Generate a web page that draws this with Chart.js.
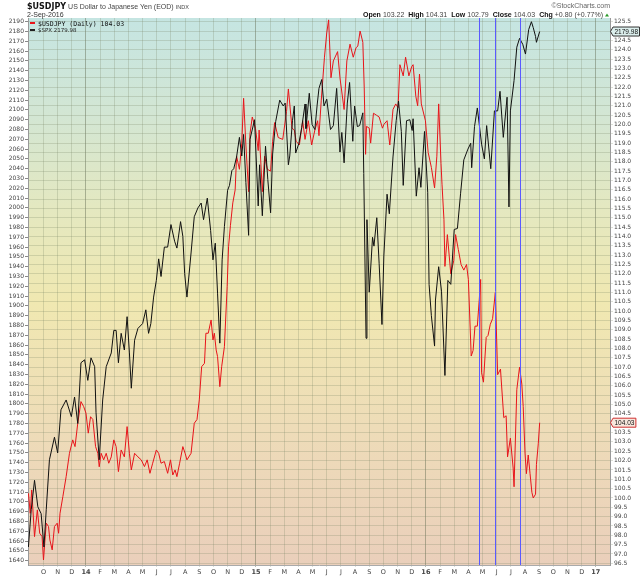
<!DOCTYPE html>
<html>
<head>
<meta charset="utf-8">
<script src="https://cdn.jsdelivr.net/npm/chart.js@4.4.1/dist/chart.umd.min.js"></script>
<style>
  html, body { margin: 0; padding: 0; background: #fff; }
  canvas { display: block; }
</style>
</head>
<body>
<canvas id="chart" width="640" height="576"></canvas>
<script>
// Month labels along the bottom axis, one per month from Oct 2013
const monthLabels = ["O","N","D","14","F","M","A","M","J","J","A","S","O","N","D","15","F","M","A","M","J","J","A","S","O","N","D","16","F","M","A","M","J","J","A","S","O","N","D","17"];

// Left axis ($SPX) and right axis ($USDJPY) tick labels
const leftTicks = [];
for (let v = 1640; v <= 2190; v += 10) leftTicks.push(v);
const rightTicks = [];
for (let v = 96.5; v <= 125.5001; v += 0.5) rightTicks.push(Math.round(v * 10) / 10);

// $SPX (black line, left axis)
const spxDates = ["2013-08-30","2013-09-05","2013-09-12","2013-09-19","2013-09-26","2013-10-02","2013-10-07","2013-10-14","2013-10-25","2013-11-01","2013-11-08","2013-11-19","2013-11-30","2013-12-07","2013-12-14","2013-12-21","2013-12-29","2014-01-05","2014-01-12","2014-01-20","2014-01-23","2014-01-30","2014-02-06","2014-02-13","2014-02-23","2014-02-28","2014-03-05","2014-03-10","2014-03-16","2014-03-23","2014-03-29","2014-04-03","2014-04-07","2014-04-14","2014-04-21","2014-05-01","2014-05-08","2014-05-14","2014-05-19","2014-05-25","2014-05-31","2014-06-05","2014-06-10","2014-06-17","2014-06-24","2014-07-01","2014-07-09","2014-07-14","2014-07-22","2014-07-27","2014-07-31","2014-08-05","2014-08-14","2014-08-21","2014-08-29","2014-09-05","2014-09-10","2014-09-18","2014-09-25","2014-09-30","2014-10-05","2014-10-10","2014-10-15","2014-10-20","2014-10-25","2014-11-01","2014-11-05","2014-11-10","2014-11-14","2014-11-20","2014-11-26","2014-12-01","2014-12-05","2014-12-10","2014-12-16","2014-12-19","2014-12-29","2015-01-06","2015-01-09","2015-01-15","2015-01-22","2015-01-27","2015-02-02","2015-02-06","2015-02-12","2015-02-20","2015-02-27","2015-03-03","2015-03-10","2015-03-13","2015-03-19","2015-03-23","2015-03-26","2015-04-02","2015-04-08","2015-04-15","2015-04-17","2015-04-24","2015-04-30","2015-05-06","2015-05-11","2015-05-15","2015-05-21","2015-05-26","2015-06-01","2015-06-09","2015-06-15","2015-06-22","2015-06-29","2015-07-03","2015-07-08","2015-07-15","2015-07-20","2015-07-27","2015-07-31","2015-08-06","2015-08-11","2015-08-18","2015-08-20","2015-08-25","2015-08-27","2015-09-01","2015-09-08","2015-09-11","2015-09-17","2015-09-22","2015-09-28","2015-10-02","2015-10-09","2015-10-14","2015-10-22","2015-10-29","2015-11-03","2015-11-09","2015-11-13","2015-11-20","2015-11-27","2015-12-02","2015-12-04","2015-12-11","2015-12-17","2015-12-21","2015-12-29","2016-01-05","2016-01-08","2016-01-13","2016-01-20","2016-01-22","2016-01-29","2016-02-04","2016-02-11","2016-02-17","2016-02-23","2016-03-01","2016-03-08","2016-03-15","2016-03-22","2016-03-31","2016-04-06","2016-04-08","2016-04-14","2016-04-20","2016-04-29","2016-05-05","2016-05-10","2016-05-19","2016-05-27","2016-06-03","2016-06-08","2016-06-15","2016-06-23","2016-06-27","2016-06-30","2016-07-08","2016-07-14","2016-07-20","2016-07-27","2016-08-02","2016-08-09","2016-08-15","2016-08-19","2016-08-24","2016-08-26","2016-09-02"];
const spxValues = [1654,1692,1722,1695,1688,1654,1692,1743,1766,1750,1794,1804,1787,1807,1780,1842,1845,1824,1847,1838,1791,1743,1804,1838,1852,1875,1875,1842,1872,1855,1889,1852,1816,1865,1877,1882,1896,1872,1882,1909,1926,1948,1930,1960,1960,1983,1966,1959,1986,1971,1933,1909,1954,1991,2000,2005,1988,2010,1977,1947,1964,1913,1862,1947,1981,2018,2023,2038,2040,2052,2072,2053,2075,2026,1972,2070,2090,2002,2044,1992,2063,2029,1995,2055,2088,2110,2104,2107,2044,2053,2089,2104,2056,2066,2082,2106,2081,2117,2085,2080,2105,2122,2131,2104,2111,2080,2084,2122,2057,2077,2046,2107,2128,2068,2104,2083,2084,2097,2035,1867,1988,1914,1970,1961,1990,1943,1881,1951,2014,1994,2052,2089,2109,2078,2023,2089,2090,2079,2091,2012,2041,2021,2078,2016,1922,1890,1859,1906,1940,1915,1829,1926,1922,1978,1979,2015,2049,2060,2066,2041,2083,2102,2065,2050,2084,2040,2099,2099,2119,2072,2113,2001,2099,2130,2164,2173,2167,2157,2182,2190,2184,2175,2169,2180];

// $USDJPY (red line, right axis)
const jpyDates = ["2013-08-30","2013-09-03","2013-09-06","2013-09-12","2013-09-18","2013-09-23","2013-09-28","2013-10-01","2013-10-07","2013-10-12","2013-10-15","2013-10-20","2013-10-25","2013-10-31","2013-11-03","2013-11-06","2013-11-12","2013-11-19","2013-11-26","2013-12-03","2013-12-08","2013-12-14","2013-12-21","2013-12-27","2014-01-01","2014-01-06","2014-01-11","2014-01-16","2014-01-22","2014-01-27","2014-01-30","2014-02-03","2014-02-08","2014-02-13","2014-02-18","2014-02-23","2014-02-28","2014-03-05","2014-03-10","2014-03-16","2014-03-23","2014-03-29","2014-04-03","2014-04-07","2014-04-14","2014-04-21","2014-04-28","2014-05-05","2014-05-11","2014-05-17","2014-05-23","2014-05-31","2014-06-05","2014-06-10","2014-06-17","2014-06-24","2014-06-30","2014-07-05","2014-07-10","2014-07-14","2014-07-20","2014-07-27","2014-08-01","2014-08-05","2014-08-14","2014-08-21","2014-08-27","2014-09-01","2014-09-06","2014-09-12","2014-09-15","2014-09-20","2014-09-26","2014-09-30","2014-10-03","2014-10-07","2014-10-10","2014-10-15","2014-10-19","2014-10-25","2014-10-31","2014-11-03","2014-11-07","2014-11-12","2014-11-17","2014-11-20","2014-11-26","2014-12-01","2014-12-05","2014-12-10","2014-12-16","2014-12-19","2014-12-24","2014-12-31","2015-01-06","2015-01-08","2015-01-15","2015-01-20","2015-01-26","2015-02-02","2015-02-06","2015-02-10","2015-02-17","2015-02-26","2015-03-06","2015-03-10","2015-03-18","2015-03-23","2015-03-27","2015-04-03","2015-04-10","2015-04-15","2015-04-22","2015-04-29","2015-05-06","2015-05-12","2015-05-15","2015-05-20","2015-05-27","2015-06-01","2015-06-05","2015-06-10","2015-06-15","2015-06-24","2015-06-29","2015-07-08","2015-07-14","2015-07-21","2015-07-28","2015-08-03","2015-08-07","2015-08-12","2015-08-18","2015-08-21","2015-08-24","2015-08-26","2015-09-01","2015-09-04","2015-09-10","2015-09-16","2015-09-22","2015-09-29","2015-10-02","2015-10-09","2015-10-15","2015-10-22","2015-10-28","2015-11-02","2015-11-06","2015-11-13","2015-11-18","2015-11-25","2015-12-01","2015-12-04","2015-12-10","2015-12-14","2015-12-18","2015-12-22","2015-12-31","2016-01-06","2016-01-13","2016-01-20","2016-01-25","2016-01-29","2016-02-03","2016-02-05","2016-02-09","2016-02-11","2016-02-16","2016-02-23","2016-02-29","2016-03-04","2016-03-10","2016-03-16","2016-03-22","2016-03-28","2016-04-01","2016-04-07","2016-04-11","2016-04-15","2016-04-20","2016-04-24","2016-04-27","2016-04-29","2016-05-03","2016-05-09","2016-05-13","2016-05-18","2016-05-23","2016-05-29","2016-06-03","2016-06-09","2016-06-16","2016-06-21","2016-06-24","2016-06-30","2016-07-06","2016-07-08","2016-07-14","2016-07-20","2016-07-25","2016-07-28","2016-08-01","2016-08-04","2016-08-08","2016-08-12","2016-08-16","2016-08-19","2016-08-24","2016-08-26","2016-08-30","2016-09-02"];
const jpyValues = [100.25,99.18,100.43,97.93,99.36,98.11,97.93,96.68,98.65,98.47,97.75,97.22,98.47,98.65,98.11,99.18,100.07,101.14,102.39,103.11,102.75,104.0,105.16,104.89,104.54,103.47,104.35,104.2,102.75,102.39,101.67,102.39,102.04,102.39,101.86,102.2,103.11,102.75,101.41,102.57,102.2,103.82,102.39,101.5,102.39,102.2,102.04,101.68,102.04,101.32,101.86,102.57,102.39,101.86,101.95,101.32,102.04,101.23,101.5,101.14,101.86,102.75,102.39,102.04,102.39,104.0,104.2,105.25,107.03,107.21,108.82,108.82,109.53,108.46,108.82,107.92,107.57,105.96,107.03,108.1,111.31,113.45,114.6,115.8,116.5,118.3,117.6,119.0,121.4,118.9,116.4,119.5,120.4,119.8,118.6,119.7,116.4,118.3,117.6,117.5,119.1,120.1,119.3,119.2,120.7,121.9,119.8,119.7,119.1,118.9,120.2,119.2,120.2,118.9,119.7,120.2,119.4,121.3,123.6,124.9,125.6,122.5,123.4,123.9,122.5,120.8,123.4,124.3,123.6,124.1,124.2,125.0,124.4,122.0,118.4,119.9,119.8,119.0,120.6,120.5,120.4,119.8,120.0,120.2,118.9,120.8,121.1,120.9,123.2,122.6,123.6,122.6,123.1,123.2,121.5,121.0,122.7,121.1,120.2,118.5,117.7,116.6,118.3,121.1,117.9,116.8,114.9,112.4,114.1,112.0,112.7,114.1,113.3,112.5,112.2,112.5,111.7,107.6,107.9,109.2,109.2,110.6,111.7,106.7,106.2,108.6,108.7,109.3,109.6,111.0,106.6,106.9,104.3,104.4,102.2,103.2,101.6,100.6,105.8,107.0,106.1,104.9,102.4,101.3,102.3,101.3,100.3,100.0,100.2,101.8,102.9,104.03];

// Blue vertical marker lines
const markerDates = ["2016-04-24","2016-05-29","2016-07-20"];

// Axis ranges
const xMin = -1.094, xMax = 40;
const leftMin = 1635.6, leftMax = 2193.8;
const rightMin = 96.41, rightMax = 125.70;

// date string -> month index (Oct 2013 = 0)
function monthIndex(s) {
    const [y, m, d] = s.split("-").map(Number);
    const days = new Date(y, m, 0).getDate();
    return (y - 2013) * 12 + (m - 10) + (d - 1) / days;
}
const isYear = i => /\d/.test(monthLabels[i] || "");

const spxPoints = spxDates.map((d, i) => ({ x: monthIndex(d), y: spxValues[i] }));
const jpyPoints = jpyDates.map((d, i) => ({ x: monthIndex(d), y: jpyValues[i] }));

// Plot background gradient
const backgroundPlugin = {
    id: "bg",
    beforeDraw(chart) {
        const { ctx, chartArea: a } = chart;
        const g = ctx.createLinearGradient(0, a.top, 0, a.bottom);
        g.addColorStop(0, "#c5e5e2");
        g.addColorStop(0.18, "#d3e6d3");
        g.addColorStop(0.35, "#e4e8c0");
        g.addColorStop(0.52, "#f0e8b1");
        g.addColorStop(0.75, "#eedcb8");
        g.addColorStop(1, "#eacfbb");
        ctx.save();
        ctx.fillStyle = g;
        ctx.fillRect(a.left, a.top, a.right - a.left, a.bottom - a.top);
        ctx.restore();
    }
};

// Vertical markers, legend, header, last-value boxes
const overlayPlugin = {
    id: "overlay",
    afterDatasetsDraw(chart) {
        const { ctx, chartArea: a, scales } = chart;
        ctx.save();
        ctx.strokeStyle = "#5a5aff";
        ctx.lineWidth = 1;
        markerDates.forEach(d => {
            const x = Math.round(scales.x.getPixelForValue(monthIndex(d))) + 0.5;
            ctx.beginPath();
            ctx.moveTo(x, a.top);
            ctx.lineTo(x, a.bottom);
            ctx.stroke();
        });
        ctx.restore();
    },
    afterDraw(chart) {
        const { ctx, chartArea: a, scales } = chart;
        ctx.save();
        ctx.textBaseline = "alphabetic";

        // title block
        ctx.fillStyle = "#111";
        ctx.font = "bold 8px 'DejaVu Sans'";
        ctx.fillText("$USDJPY", 27, 9);
        let x = 27 + ctx.measureText("$USDJPY").width + 2;
        ctx.font = "7px 'Liberation Sans'";
        ctx.fillStyle = "#444";
        ctx.fillText("US Dollar to Japanese Yen (EOD)", x, 9);
        x += ctx.measureText("US Dollar to Japanese Yen (EOD)").width + 2;
        ctx.font = "5.5px 'Liberation Sans'";
        ctx.fillText("INDX", x, 9);
        ctx.font = "7px 'Liberation Sans'";
        ctx.fillStyle = "#333";
        ctx.fillText("2-Sep-2016", 27, 17);

        ctx.fillStyle = "#666";
        ctx.font = "7px 'Liberation Sans'";
        ctx.textAlign = "right";
        ctx.fillText("\u00A9StockCharts.com", 610, 8);
        ctx.textAlign = "left";

        // quote line, laid out right to left so it ends at the triangle
        const quote = [["Open", true], ["103.22", false], ["High", true], ["104.31", false],
                       ["Low", true], ["102.79", false], ["Close", true], ["104.03", false],
                       ["Chg", true], ["+0.80 (+0.77%)", false]];
        const qFont = b => (b ? "bold " : "") + "7px 'Liberation Sans'";
        const widths = quote.map(([t, b]) => { ctx.font = qFont(b); return ctx.measureText(t).width; });
        const gap = i => (i % 2 === 0 ? 2 : 4);
        let total = 0;
        widths.forEach((w, i) => { total += w + (i < widths.length - 1 ? gap(i) : 0); });
        let qx = 603 - total;
        quote.forEach(([t, b], i) => {
            ctx.font = qFont(b);
            ctx.fillStyle = b ? "#111" : "#444";
            ctx.fillText(t, qx, 17);
            qx += widths[i] + gap(i);
        });
        ctx.fillStyle = "#2a9a2a";
        ctx.beginPath();
        ctx.moveTo(605, 16.5);
        ctx.lineTo(609, 16.5);
        ctx.lineTo(607, 13.5);
        ctx.closePath();
        ctx.fill();

        // legend inside the plot
        ctx.fillStyle = "#e8141a";
        ctx.fillRect(a.left + 2, a.top + 4, 5, 2);
        ctx.fillStyle = "#111";
        ctx.font = "6.5px 'DejaVu Sans Mono'";
        ctx.fillText("$USDJPY (Daily) 104.03", a.left + 10, a.top + 7.5);
        ctx.fillStyle = "#222";
        ctx.fillRect(a.left + 2, a.top + 11, 5, 2);
        ctx.font = "5.5px 'DejaVu Sans'";
        ctx.fillText("$SPX 2179.98", a.left + 10, a.top + 14);

        // last value boxes on the right axis
        const box = (y, text, fill, stroke) => {
            ctx.font = "6.5px 'Liberation Sans'";
            const w = ctx.measureText(text).width + 3;
            const bx = a.right + 3;
            ctx.beginPath();
            ctx.moveTo(a.right + 0.5, y);
            ctx.lineTo(bx, y - 4.5);
            ctx.lineTo(bx + w, y - 4.5);
            ctx.lineTo(bx + w, y + 4.5);
            ctx.lineTo(bx, y + 4.5);
            ctx.closePath();
            ctx.fillStyle = fill;
            ctx.fill();
            ctx.strokeStyle = stroke;
            ctx.lineWidth = 1;
            ctx.stroke();
            ctx.fillStyle = "#111";
            ctx.textBaseline = "middle";
            ctx.fillText(text, bx + 1.5, y + 0.5);
            ctx.textBaseline = "alphabetic";
        };
        box(scales.yLeft.getPixelForValue(spxValues[spxValues.length - 1]), "2179.98", "#dcefed", "#333");
        box(scales.yRight.getPixelForValue(jpyValues[jpyValues.length - 1]), "104.03", "#f7e6dc", "#d03030");
        ctx.restore();
    }
};

const tickFont = { family: "DejaVu Sans", size: 6 };

new Chart(document.getElementById("chart").getContext("2d"), {
    type: "line",
    data: {
        datasets: [
            { label: "$SPX", data: spxPoints, yAxisID: "yLeft", borderColor: "#111", borderWidth: 1, pointRadius: 0, tension: 0, order: 0 },
            { label: "$USDJPY", data: jpyPoints, yAxisID: "yRight", borderColor: "#e8141a", borderWidth: 1, pointRadius: 0, tension: 0, order: 1 }
        ]
    },
    options: {
        responsive: false,
        animation: false,
        layout: { padding: { top: 18, left: 0, right: 0, bottom: 0 } },
        plugins: { legend: { display: false }, tooltip: { enabled: false } },
        scales: {
            x: {
                type: "linear", min: xMin, max: xMax,
                afterBuildTicks: s => { s.ticks = monthLabels.map((_, i) => ({ value: i })); },
                afterFit: s => { s.height = 11; },
                grid: {
                    color: ctx => isYear(ctx.index) ? "rgba(95,105,80,0.45)" : "rgba(120,130,100,0.25)",
                    tickLength: 2
                },
                border: { color: "#aaa" },
                ticks: {
                    autoSkip: false, maxRotation: 0, padding: 1, color: "#444",
                    font: ctx => ({ family: "DejaVu Sans", size: 6.5, weight: isYear(ctx.index) ? "bold" : "normal" }),
                    callback: (v, i) => monthLabels[i]
                }
            },
            yLeft: {
                type: "linear", position: "left", min: leftMin, max: leftMax,
                afterBuildTicks: s => { s.ticks = leftTicks.map(v => ({ value: v })); },
                afterFit: s => { s.width = 28; },
                grid: { drawOnChartArea: false, tickLength: 3, color: "#888" },
                border: { color: "#999" },
                ticks: { autoSkip: false, padding: 1, color: "#444", font: tickFont, callback: v => String(v) }
            },
            yRight: {
                type: "linear", position: "right", min: rightMin, max: rightMax,
                afterBuildTicks: s => { s.ticks = rightTicks.map(v => ({ value: v })); },
                afterFit: s => { s.width = 30; },
                grid: { color: "rgba(120,130,100,0.25)", tickLength: 3 },
                border: { color: "#999" },
                ticks: { autoSkip: false, padding: 1, color: "#444", font: tickFont, callback: v => Number(v).toFixed(1) }
            }
        }
    },
    plugins: [backgroundPlugin, overlayPlugin]
});
</script>
</body>
</html>
